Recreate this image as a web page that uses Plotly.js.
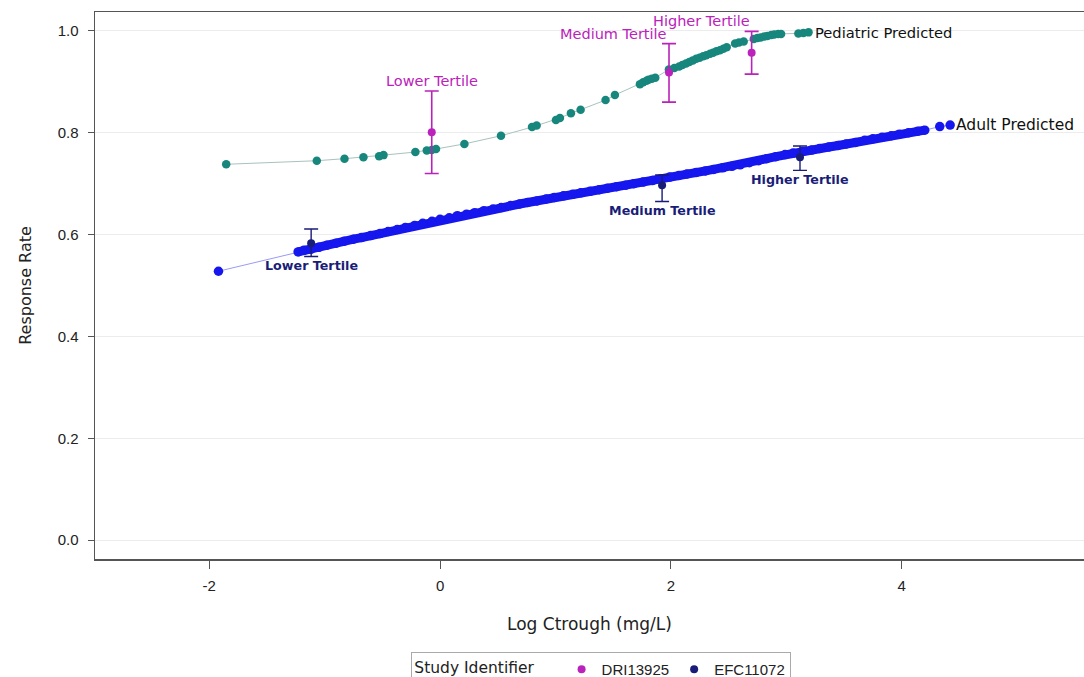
<!DOCTYPE html>
<html>
<head>
<meta charset="utf-8">
<script src="https://cdn.plot.ly/plotly-3.0.1.min.js"></script>
<style>
  html, body { margin: 0; padding: 0; background: #fff; }
  #chart { width: 1084px; height: 677px; }
</style>
</head>
<body>
<div id="chart"></div>
<script>
// Pediatric model-predicted response vs log Ctrough
const pedPredX = [-1.853, -1.068, -0.828, -0.664, -0.528, -0.49, -0.214, -0.115, -0.072, -0.035,
  0.211, 0.528, 0.797, 0.837, 1.004, 1.039, 1.134, 1.218, 1.434, 1.515, 1.732, 1.760, 1.789, 1.806,
  1.835, 1.865, 1.983, 2.03, 2.072, 2.10, 2.131, 2.16, 2.19, 2.22, 2.249, 2.28, 2.307, 2.34, 2.366,
  2.395, 2.425, 2.455, 2.484, 2.557, 2.59, 2.631, 2.719, 2.75, 2.778, 2.81, 2.837, 2.87, 2.896, 2.93,
  2.955, 3.105, 3.149, 3.193];
const pedPredY = [0.738, 0.745, 0.749, 0.752, 0.754, 0.756, 0.762, 0.765, 0.766, 0.768,
  0.778, 0.794, 0.811, 0.814, 0.825, 0.829, 0.838, 0.845, 0.864, 0.874, 0.895, 0.899, 0.902, 0.904,
  0.906, 0.908, 0.924, 0.927, 0.930, 0.933, 0.936, 0.939, 0.942, 0.945, 0.947, 0.950, 0.952, 0.955, 0.957,
  0.960, 0.962, 0.965, 0.968, 0.975, 0.977, 0.979, 0.984, 0.986, 0.987, 0.989, 0.990, 0.992, 0.993, 0.994,
  0.994, 0.995, 0.996, 0.997];

// Adult model-predicted response vs log Ctrough
const adultPredX = [-1.92, -1.23, -1.18, -1.12, -1.05, -0.98, -0.90, -0.83, -0.75, -0.68, -0.60, -0.52,
  -0.45, -0.37, -0.30, -0.22, -0.15, -0.07, 0.00, 0.08, 0.15, 0.23, 0.30, 0.38, 0.46, 0.53, 0.61,
  0.69, 0.76, 0.84, 0.92, 0.99, 1.07, 1.15, 1.22, 1.30, 1.38, 1.45, 1.53, 1.61, 1.68, 1.76, 1.84,
  1.91, 1.99, 2.07, 2.14, 2.22, 2.30, 2.37, 2.45, 2.53, 2.60, 2.68, 2.76, 2.83, 2.91, 2.99, 3.06,
  3.14, 3.22, 3.29, 3.37, 3.45, 3.52, 3.60, 3.68, 3.75, 3.83, 3.91, 3.98, 4.06, 4.14, 4.20, 4.33, 4.42];
const adultPredY = [0.528, 0.566, 0.569, 0.571, 0.575, 0.579, 0.583, 0.587, 0.591, 0.594, 0.598, 0.602,
  0.606, 0.610, 0.614, 0.618, 0.622, 0.626, 0.630, 0.633, 0.637, 0.640, 0.643, 0.647, 0.650, 0.653, 0.657,
  0.660, 0.663, 0.666, 0.670, 0.673, 0.676, 0.679, 0.682, 0.685, 0.688, 0.691, 0.694, 0.697, 0.700,
  0.703, 0.706, 0.709, 0.713, 0.716, 0.719, 0.722, 0.725, 0.728, 0.731, 0.734, 0.737, 0.741, 0.745,
  0.749, 0.753, 0.757, 0.760, 0.763, 0.766, 0.769, 0.772, 0.775, 0.778, 0.781, 0.785, 0.788, 0.791,
  0.794, 0.797, 0.800, 0.803, 0.805, 0.812, 0.815];

// Observed response by Ctrough tertile
const tertileLabels = ['Lower Tertile', 'Medium Tertile', 'Higher Tertile'];

const dri13925X = [-0.072, 1.984, 2.70];
const dri13925Y = [0.801, 0.918, 0.957];
const dri13925Lo = [0.720, 0.860, 0.915];
const dri13925Hi = [0.882, 0.975, 0.999];

const efc11072X = [-1.117, 1.924, 3.119];
const efc11072Y = [0.583, 0.697, 0.752];
const efc11072Lo = [0.557, 0.665, 0.726];
const efc11072Hi = [0.611, 0.717, 0.774];

const colPed = '#17877d';
const colAdult = '#1616ee';
const colDRI = '#bb22bb';
const colEFC = '#1a1d78';
const fontFam = '"DejaVu Sans", Verdana, sans-serif';
const arialFam = '"Liberation Sans", Arial, sans-serif';

const plus = (hi, y) => hi.map((h, i) => +(h - y[i]).toFixed(3));
const minus = (lo, y) => lo.map((l, i) => +(y[i] - l).toFixed(3));

// dense part of the adult curve (between the first and the two trailing points)
const bandEnd = adultPredX.indexOf(4.20) + 1;

const traces = [
  {
    x: pedPredX, y: pedPredY, type: 'scatter', mode: 'lines+markers',
    line: { color: '#a9c2bd', width: 1 },
    marker: { color: colPed, size: 8.5 },
    showlegend: false, hoverinfo: 'x+y'
  },
  {
    x: adultPredX, y: adultPredY, type: 'scatter', mode: 'lines',
    line: { color: '#9a9af5', width: 1 },
    showlegend: false, hoverinfo: 'skip'
  },
  {
    x: adultPredX.slice(1, bandEnd), y: adultPredY.slice(1, bandEnd), type: 'scatter', mode: 'lines',
    line: { color: colAdult, width: 9 },
    showlegend: false, hoverinfo: 'skip'
  },
  {
    x: adultPredX, y: adultPredY, type: 'scatter', mode: 'markers',
    marker: { color: colAdult, size: 9.5 },
    showlegend: false, hoverinfo: 'x+y'
  },
  {
    x: dri13925X, y: dri13925Y, type: 'scatter', mode: 'markers', name: 'DRI13925',
    marker: { color: colDRI, size: 8 },
    error_y: { type: 'data', symmetric: false, array: plus(dri13925Hi, dri13925Y),
      arrayminus: minus(dri13925Lo, dri13925Y), color: colDRI, thickness: 1.6, width: 7 }
  },
  {
    x: efc11072X, y: efc11072Y, type: 'scatter', mode: 'markers', name: 'EFC11072',
    marker: { color: colEFC, size: 8 },
    error_y: { type: 'data', symmetric: false, array: plus(efc11072Hi, efc11072Y),
      arrayminus: minus(efc11072Lo, efc11072Y), color: colEFC, thickness: 1.4, width: 7 }
  }
];

const annotations = [];
// pediatric tertile labels sit above the upper error limit
const pedAnchors = ['center', 'right', 'right'];
tertileLabels.forEach((t, i) => {
  annotations.push({
    x: dri13925X[i], y: dri13925Hi[i], text: t, showarrow: false,
    xanchor: pedAnchors[i], yanchor: 'bottom', yshift: 0,
    font: { family: fontFam, size: 14.5, color: colDRI }
  });
});
// adult tertile labels sit below the lower error limit
tertileLabels.forEach((t, i) => {
  annotations.push({
    x: efc11072X[i], y: efc11072Lo[i], text: '<b>' + t + '</b>', showarrow: false,
    xanchor: 'center', yanchor: 'top', yshift: 0,
    font: { family: fontFam, size: 12.7, color: colEFC }
  });
});
// end-of-curve labels
annotations.push({
  x: pedPredX[pedPredX.length - 1], y: pedPredY[pedPredY.length - 1], text: 'Pediatric Predicted',
  showarrow: false, xanchor: 'left', yanchor: 'middle', xshift: 4,
  font: { family: fontFam, size: 14.7, color: '#111' }
});
annotations.push({
  x: adultPredX[adultPredX.length - 1], y: adultPredY[adultPredY.length - 1], text: 'Adult Predicted',
  showarrow: false, xanchor: 'left', yanchor: 'middle', xshift: 4,
  font: { family: fontFam, size: 15.5, color: '#111' }
});

const layout = {
  width: 1084, height: 677,
  margin: { l: 95, r: 0, t: 12, b: 118, autoexpand: false },
  paper_bgcolor: '#fff', plot_bgcolor: '#fff',
  font: { family: fontFam, color: '#222' },
  showlegend: true,
  xaxis: {
    range: [-2.99, 5.58], tickvals: [-2, 0, 2, 4], ticktext: ['-2', '0', '2', '4'],
    showgrid: false, zeroline: false,
    showline: true, mirror: true, linecolor: '#555', linewidth: 1.5,
    ticks: 'outside', ticklen: 8, tickcolor: '#555', tickwidth: 1,
    tickfont: { family: arialFam, size: 15, color: '#222' }, ticklabelstandoff: 4,
    title: { text: 'Log Ctrough (mg/L)', font: { size: 17, color: '#222' }, standoff: 25 }
  },
  yaxis: {
    range: [-0.037, 1.037], tickvals: [0, 0.2, 0.4, 0.6, 0.8, 1.0],
    ticktext: ['0.0', '0.2', '0.4', '0.6', '0.8', '1.0'],
    showgrid: true, gridcolor: '#ececec', gridwidth: 1, zeroline: false,
    showline: true, linecolor: '#555', linewidth: 1.5,
    ticks: 'outside', ticklen: 6, tickcolor: '#555', tickwidth: 1,
    tickfont: { family: arialFam, size: 15, color: '#222' }, ticklabelstandoff: 6,
    title: { text: 'Response Rate', font: { size: 16, color: '#222' }, standoff: 22 }
  },
  legend: {
    orientation: 'h', x: 0.512, xanchor: 'center', y: -0.17, yanchor: 'top',
    bordercolor: '#aaa', borderwidth: 1, bgcolor: '#fff',
    font: { family: arialFam, size: 15, color: '#222' },
    title: { text: 'Study Identifier\u00a0\u00a0\u00a0\u00a0', side: 'left', font: { family: fontFam, size: 15.5, color: '#222' } },
    itemwidth: 30, tracegroupgap: 0
  },
  annotations: annotations
};

Plotly.newPlot('chart', traces, layout, { displayModeBar: false, staticPlot: true });
</script>
</body>
</html>
